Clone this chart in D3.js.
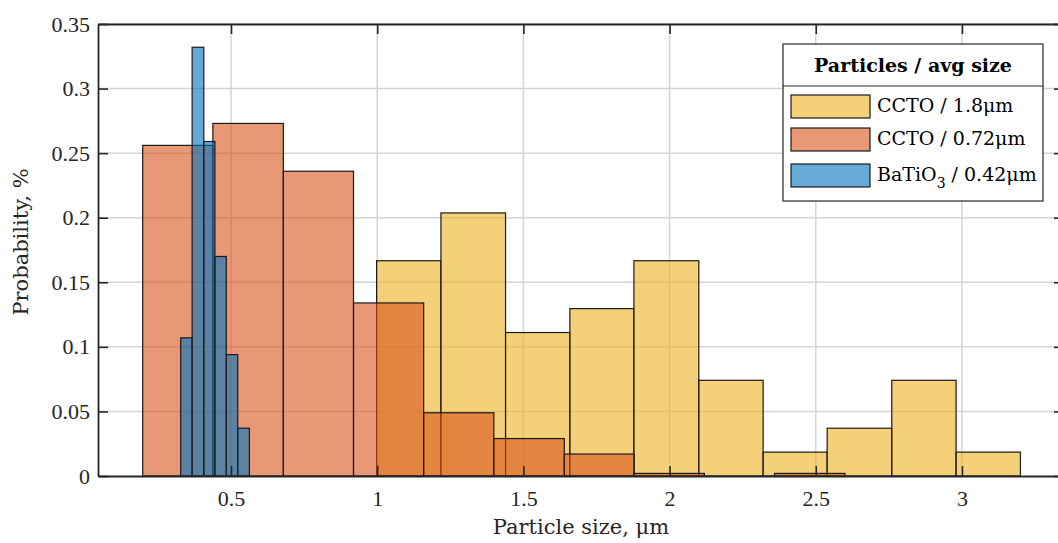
<!DOCTYPE html>
<html>
<head>
<meta charset="utf-8">
<script src="https://cdn.jsdelivr.net/npm/d3@7"></script>
<style>
  body { margin: 0; background: #fff; }
  svg { display: block; }
</style>
</head>
<body>
<script>
// bin edges (µm) and probabilities
const ccto18Edges = [0.998, 1.218, 1.439, 1.659, 1.878, 2.100, 2.320, 2.539, 2.760, 2.980, 3.200];
const ccto18Prob = [0.1667, 0.2037, 0.1111, 0.1296, 0.1667, 0.0741, 0.0185, 0.0370, 0.0741, 0.0185];

const ccto072Edges = [0.198, 0.438, 0.679, 0.919, 1.159, 1.399, 1.640, 1.879, 2.119, 2.359, 2.600];
const ccto072Prob = [0.256, 0.273, 0.236, 0.134, 0.049, 0.029, 0.017, 0.002, 0, 0.002];

const batioEdges = [0.328, 0.367, 0.407, 0.445, 0.484, 0.523, 0.563];
const batioProb = [0.107, 0.332, 0.259, 0.170, 0.094, 0.037];

const xTicks = [0.5, 1, 1.5, 2, 2.5, 3];
const yTicks = [0, 0.05, 0.1, 0.15, 0.2, 0.25, 0.3, 0.35];

const series = [
  { name: "CCTO / 1.8μm", edges: ccto18Edges, prob: ccto18Prob, color: "#EDB120" },
  { name: "CCTO / 0.72μm", edges: ccto072Edges, prob: ccto072Prob, color: "#D95319" },
  { name: "BaTiO3 / 0.42μm", edges: batioEdges, prob: batioProb, color: "#0072BD" }
];

const W = 1058, H = 543;
const pLeft = 98, pRight = 1064, pTop = 24, pBottom = 476;
const axisColor = "#262626";
const tickFont = "'Liberation Serif', serif";
const labelFont = "'DejaVu Serif', serif";

const svg = d3.select("body").append("svg")
  .attr("width", W).attr("height", H);

const x = d3.scaleLinear().domain([0.0451, 3.349]).range([pLeft, pRight]);
const y = d3.scaleLinear().domain([0, 0.35]).range([pBottom, pTop]);

// grid
const grid = svg.append("g");
grid.selectAll(".gx").data(xTicks).enter().append("line")
  .attr("x1", d => x(d)).attr("x2", d => x(d))
  .attr("y1", pTop).attr("y2", pBottom)
  .attr("stroke", "#d4d4d4").attr("stroke-width", 1.5);
grid.selectAll(".gy").data(yTicks.slice(1)).enter().append("line")
  .attr("x1", pLeft).attr("x2", pRight)
  .attr("y1", d => y(d)).attr("y2", d => y(d))
  .attr("stroke", "#d4d4d4").attr("stroke-width", 1.5);

// histogram bars
series.forEach(s => {
  const bins = s.prob.map((p, i) => ({ x0: s.edges[i], x1: s.edges[i + 1], p: p }));
  svg.append("g").selectAll("rect")
    .data(bins.filter(b => b.p > 0))
    .enter().append("rect")
    .attr("x", d => x(d.x0))
    .attr("width", d => x(d.x1) - x(d.x0))
    .attr("y", d => y(d.p))
    .attr("height", d => y(0) - y(d.p))
    .attr("fill", s.color)
    .attr("fill-opacity", 0.6)
    .attr("stroke", "#1a1a1a")
    .attr("stroke-width", 1.2);
});

// axes box with inward ticks
const ax = svg.append("g");
const tickLen = 10;
const xAxisB = d3.axisBottom(x).tickValues(xTicks).tickSizeInner(-tickLen).tickSizeOuter(0).tickPadding(14)
  .tickFormat(d3.format("~g"));
const xAxisT = d3.axisTop(x).tickValues(xTicks).tickSizeInner(-tickLen).tickSizeOuter(0).tickFormat("");
const yAxisL = d3.axisLeft(y).tickValues(yTicks).tickSizeInner(-tickLen).tickSizeOuter(0).tickPadding(8)
  .tickFormat(d3.format("~g"));
const yAxisR = d3.axisRight(y).tickValues(yTicks).tickSizeInner(-tickLen).tickSizeOuter(0).tickFormat("");

ax.append("g").attr("transform", `translate(0,${pBottom})`).call(xAxisB);
ax.append("g").attr("transform", `translate(0,${pTop})`).call(xAxisT);
ax.append("g").attr("transform", `translate(${pLeft},0)`).call(yAxisL);
ax.append("g").attr("transform", `translate(${pRight},0)`).call(yAxisR);

ax.selectAll(".domain").attr("stroke", axisColor).attr("stroke-width", 1.8);
ax.selectAll(".tick line").attr("stroke", axisColor).attr("stroke-width", 1.6);
ax.selectAll(".tick text")
  .attr("fill", "#262626")
  .style("font-family", tickFont)
  .style("font-size", "22px");

// axis labels
svg.append("text")
  .attr("x", (pLeft + pRight) / 2).attr("y", 534)
  .attr("text-anchor", "middle")
  .style("font-family", labelFont).style("font-size", "21px")
  .attr("fill", "#262626")
  .text("Particle size, μm");

svg.append("text")
  .attr("transform", "translate(28,242) rotate(-90)")
  .attr("text-anchor", "middle")
  .style("font-family", labelFont).style("font-size", "21px")
  .attr("fill", "#262626")
  .text("Probability, %");

// legend
const lg = svg.append("g");
const lx = 783, ly = 44, lw = 260, lh = 157;
lg.append("rect").attr("x", lx).attr("y", ly).attr("width", lw).attr("height", lh)
  .attr("fill", "#fff").attr("stroke", axisColor).attr("stroke-width", 1.2);
lg.append("line").attr("x1", lx).attr("x2", lx + lw).attr("y1", 86).attr("y2", 86)
  .attr("stroke", axisColor).attr("stroke-width", 1.2);
lg.append("text")
  .attr("x", lx + lw / 2).attr("y", 72)
  .attr("text-anchor", "middle")
  .style("font-family", labelFont).style("font-size", "19px").style("font-weight", "bold")
  .attr("fill", "#000")
  .text("Particles / avg size");

const rowY = [95, 128, 164];
series.forEach((s, i) => {
  lg.append("rect")
    .attr("x", 791).attr("y", rowY[i]).attr("width", 79).attr("height", 23)
    .attr("fill", s.color).attr("fill-opacity", 0.6)
    .attr("stroke", "#1a1a1a").attr("stroke-width", 1.2);
  const t = lg.append("text")
    .attr("x", 877).attr("y", rowY[i] + 17)
    .style("font-family", labelFont).style("font-size", "19px")
    .attr("fill", "#000");
  if (i === 2) {
    t.append("tspan").text("BaTiO");
    t.append("tspan").attr("dy", 7).style("font-size", "14px").text("3");
    t.append("tspan").attr("dy", -7).text(" / 0.42μm");
  } else {
    t.text(s.name);
  }
});
</script>
</body>
</html>
